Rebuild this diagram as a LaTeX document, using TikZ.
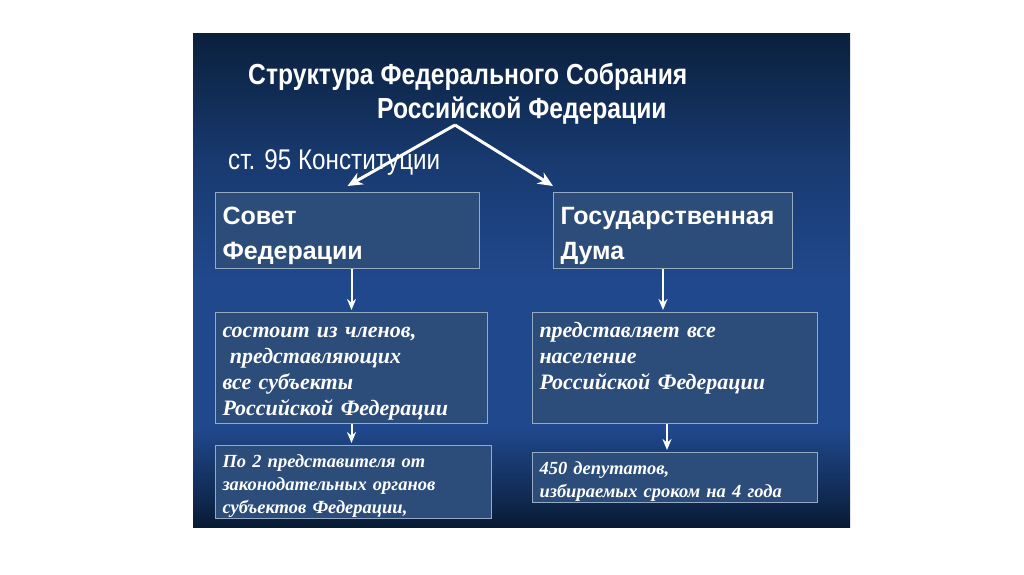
\documentclass[tikz,border=0pt]{standalone}
\usepackage{fontspec}
\setmainfont{Liberation Serif}
\setsansfont{Liberation Sans}
\newfontfamily\narrowfont[FakeStretch=0.85]{Liberation Sans}
\usetikzlibrary{arrows.meta, positioning}

\definecolor{slideTop}{RGB}{10,32,60}
\definecolor{slideHigh}{RGB}{24,58,112}
\definecolor{slideMid}{RGB}{32,72,140}
\definecolor{slideLow}{RGB}{16,42,82}
\definecolor{slideBottom}{RGB}{8,26,52}
\definecolor{boxFill}{RGB}{44,76,122}
\definecolor{boxLine}{RGB}{150,170,196}

\pgfdeclareverticalshading{slideShade}{100bp}{color(0bp)=(slideBottom); color(25bp)=(slideBottom); color(28bp)=(slideLow); color(35bp)=(slideMid); color(50bp)=(slideMid); color(62bp)=(slideHigh); color(75bp)=(slideTop); color(100bp)=(slideTop)}

\tikzstyle{box} = [rectangle, anchor=north west, draw=boxLine, fill=boxFill, line width=1pt, inner xsep=7pt, inner ysep=0pt, align=left, text=white]
\tikzstyle{chamber} = [box, font=\sffamily\bfseries\fontsize{25}{35}\selectfont, execute at begin node={\rule{0pt}{31pt}}, execute at end node={\rule[-8.5pt]{0pt}{0pt}}]
\tikzstyle{info} = [box, font=\bfseries\itshape\fontsize{22}{26}\selectfont, execute at begin node={\rule{0pt}{24pt}}, execute at end node=\strut]
\tikzstyle{detail} = [box, inner ysep=-3pt, font=\bfseries\itshape\fontsize{18.5}{23}\selectfont, execute at begin node={\rule{0pt}{24pt}}, execute at end node=\strut]
\tikzstyle{heading} = [anchor=west, inner sep=0pt, text=white]
\tikzstyle{arrow} = [white, line width=3pt, -{Stealth[length=15pt,width=13pt]}]
\tikzstyle{downarrow} = [white, line width=2pt, -{Stealth[length=11pt,width=9pt]}]

\begin{document}
\begin{tikzpicture}[x=1pt,y=-1pt]

    % Slide
    \fill[white] (0,0) rectangle (1024,574);
    \useasboundingbox (0,0) rectangle (1024,574);
    \shade[shading=slideShade] (193,33) rectangle (850,527);

    % Nodes
    \node[heading, font=\narrowfont\bfseries\fontsize{29}{31}\selectfont] (title1) at (248,77) {Структура Федерального Собрания};
    \node[heading, font=\narrowfont\bfseries\fontsize{29}{31}\selectfont] (title2) at (377,111) {Российской Федерации};
    \node[heading, font=\narrowfont\fontsize{28.5}{30}\selectfont] (article) at (228,162) {ст. 95 Конституции};
    \coordinate (fork) at (455,125);

    \node[chamber, text width=250pt, minimum height=76pt] (sovet) at (215,192) {Совет\\Федерации};
    \node[chamber, text width=225pt, minimum height=76pt] (duma) at (553,192) {Государственная\\Дума};

    \node[info, text width=258pt, minimum height=111pt] (sostav) at (215,312) {состоит из членов,\\ \ представляющих\\все субъекты\\Российской Федерации};
    \node[info, text width=271pt, minimum height=111pt] (naselenie) at (532,312) {представляет все\\население\\Российской Федерации\\ \mbox{}};

    \node[detail, text width=262pt, minimum height=73pt] (predstaviteli) at (215,445) {По 2 представителя от\\законодательных органов\\субъектов Федерации,};
    \node[detail, text width=271pt, minimum height=50pt] (deputaty) at (532,452) {450 депутатов,\\избираемых сроком на 4 года};

    % Arrows
    \draw[arrow] (fork) -- ([yshift=6pt]sovet.north);
    \draw[arrow] (fork) -- ([yshift=6pt]duma.north west);

    \draw[downarrow] (sostav.north |- sovet.south) -- ([yshift=2pt]sostav.north);
    \draw[downarrow] (sostav.south) -- ([yshift=2pt]sostav.south |- predstaviteli.north);
    \draw[downarrow] ([xshift=-12pt]naselenie.north |- duma.south) -- ([xshift=-12pt,yshift=2pt]naselenie.north);
    \draw[downarrow] ([xshift=-8pt]naselenie.south) -- ([xshift=-8pt,yshift=2pt]deputaty.north);

\end{tikzpicture}
\end{document}
